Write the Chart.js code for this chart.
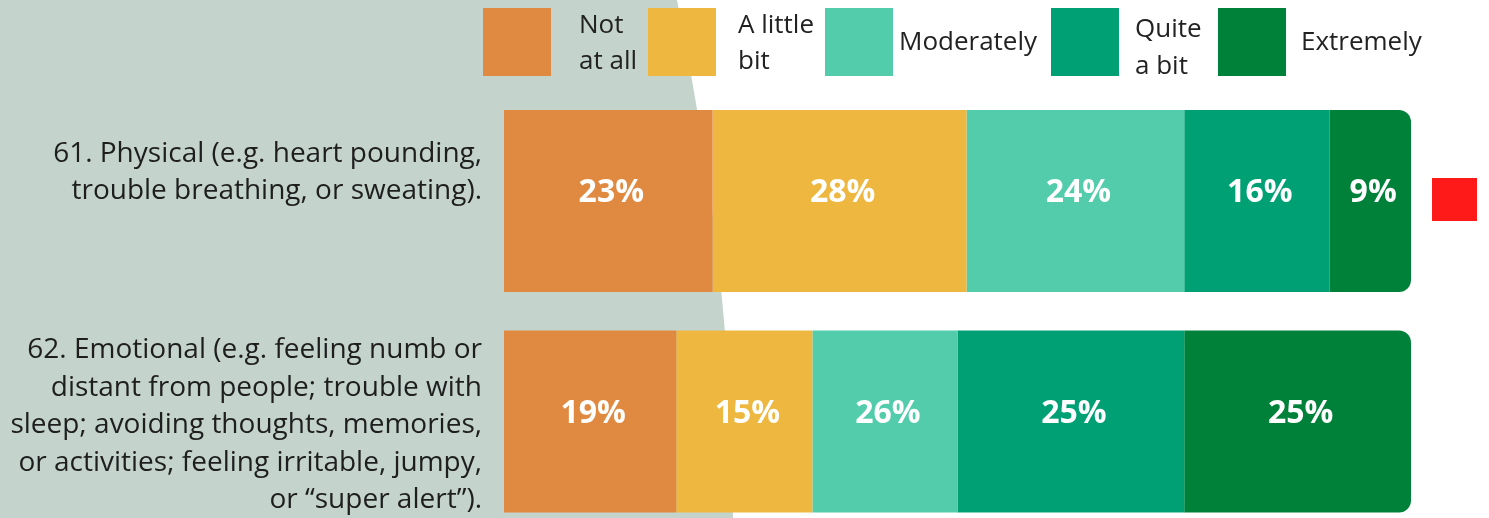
<!DOCTYPE html>
<html>
<head>
<meta charset="utf-8">
<script src="https://cdn.jsdelivr.net/npm/chart.js@4.4.0/dist/chart.umd.min.js"></script>
<style>
  html, body { margin: 0; padding: 0; background: #fff; overflow: hidden; }
  #wrap { position: absolute; left: 0; top: 0; width: 1489px; height: 545px; }
</style>
</head>
<body>
<div id="wrap"><canvas id="stressChart"></canvas></div>
<script>
// Question labels (multi-line)
const questions = [
  ['61. Physical (e.g. heart pounding,', 'trouble breathing, or sweating).'],
  ['62. Emotional (e.g. feeling numb or', 'distant from people; trouble with', 'sleep; avoiding thoughts, memories,', 'or activities; feeling irritable, jumpy,', 'or \u201csuper alert\u201d).']
];

// Response categories
const responses = ['Not at all', 'A little bit', 'Moderately', 'Quite a bit', 'Extremely'];
const legendLines = [['Not', 'at all'], ['A little', 'bit'], ['Moderately'], ['Quite', 'a bit'], ['Extremely']];
const colors = ['#E08940', '#EEB740', '#52CCAA', '#00A075', '#008139'];

// Segment sizes per response (percent of bar)
const notAtAll   = [23, 19];
const aLittleBit = [28, 15];
const moderately = [24, 16];
const quiteABit  = [16, 25];
const extremely  = [9, 25];

// Printed labels (as shown on the original chart)
const notAtAllLabels   = ['23%', '19%'];
const aLittleBitLabels = ['28%', '15%'];
const moderatelyLabels = ['24%', '26%'];
const quiteABitLabels  = ['16%', '25%'];
const extremelyLabels  = ['9%', '25%'];

const seriesValues = [notAtAll, aLittleBit, moderately, quiteABit, extremely];
const seriesLabels = [notAtAllLabels, aLittleBitLabels, moderatelyLabels, quiteABitLabels, extremelyLabels];

const FONT = "'Open Sans', 'Noto Sans', sans-serif";

// background shape behind the left part
const backdrop = {
  id: 'backdrop',
  beforeDraw(chart) {
    const c = chart.ctx;
    c.save();
    c.fillStyle = '#C4D4CD';
    c.beginPath();
    c.moveTo(0, 0);
    c.lineTo(677, 0);
    c.quadraticCurveTo(733, 280, 733, 518);
    c.lineTo(734, chart.height);
    c.lineTo(0, chart.height);
    c.closePath();
    c.fill();
    c.restore();
  }
};

// question text on the left, right aligned
const questionLabels = {
  id: 'questionLabels',
  afterDraw(chart) {
    const c = chart.ctx;
    const y = chart.scales.y;
    const lh = 37.5;
    const shift = [-29.5, 3]; // first question sits a bit higher than its bar
    c.save();
    c.font = '28px ' + FONT;
    c.fillStyle = '#1E1E1E';
    c.textAlign = 'right';
    c.textBaseline = 'middle';
    questions.forEach((lines, i) => {
      const cy = y.getPixelForTick(i) + shift[i];
      const y0 = cy - (lines.length - 1) * lh / 2;
      lines.forEach((ln, j) => c.fillText(ln, chart.chartArea.left - 22, y0 + j * lh + 1));
    });
    c.restore();
  }
};

// legend with big square swatches and wrapped text
const bigLegend = {
  id: 'bigLegend',
  afterDraw(chart) {
    const c = chart.ctx;
    const boxX = [483, 648, 825, 1051, 1218];
    const textX = [579, 738, 899, 1135, 1301];
    const lineY = [[26, 62], [26, 62], [43], [30, 67], [43]];
    c.save();
    c.font = '26px ' + FONT;
    c.textBaseline = 'middle';
    c.textAlign = 'left';
    responses.forEach((r, i) => {
      c.fillStyle = colors[i];
      c.fillRect(boxX[i], 8, 68, 68);
      c.fillStyle = '#222';
      legendLines[i].forEach((ln, j) => c.fillText(ln, textX[i], lineY[i][j]));
    });
    // small red marker at right of first bar
    const m = chart.getDatasetMeta(0).data[0];
    c.fillStyle = '#FF1A1A';
    c.fillRect(chart.chartArea.right + 21, m.y - 23, 45, 43);
    c.restore();
  }
};

// percent labels in each segment
const valueLabels = {
  id: 'valueLabels',
  afterDatasetsDraw(chart) {
    const c = chart.ctx;
    c.save();
    c.font = 'bold 32px ' + FONT;
    c.fillStyle = '#fff';
    c.textAlign = 'center';
    c.textBaseline = 'middle';
    chart.data.datasets.forEach((ds, i) => {
      chart.getDatasetMeta(i).data.forEach((bar, j) => {
        c.fillText(seriesLabels[i][j], (bar.x + bar.base) / 2 + 3, bar.y - 8);
      });
    });
    c.restore();
  }
};

const ctx = document.getElementById('stressChart').getContext('2d');
const stressChart = new Chart(ctx, {
  type: 'bar',
  data: {
    labels: questions,
    datasets: responses.map((r, i) => ({
      label: r,
      data: seriesValues[i],
      backgroundColor: colors[i],
      borderWidth: 0,
      borderSkipped: false,
      borderRadius: i === responses.length - 1 ? { topLeft: 0, bottomLeft: 0, topRight: 12, bottomRight: 12 } : 0,
      categoryPercentage: 1,
      barPercentage: 0.8254
    }))
  },
  options: {
    indexAxis: 'y',
    responsive: true,
    maintainAspectRatio: false,
    animation: false,
    layout: { padding: { top: 90.75, bottom: 13.25, right: 78, left: 0 } },
    plugins: {
      legend: { display: false },
      tooltip: { enabled: false }
    },
    scales: {
      x: { stacked: true, display: false, min: 0, max: 100 },
      y: {
        stacked: true,
        border: { display: false },
        grid: { display: false, drawTicks: false },
        ticks: { display: false },
        afterFit(scale) {
          scale.width = 504;
          scale.paddingTop = 0;
          scale.paddingBottom = 0;
        }
      }
    }
  },
  plugins: [backdrop, valueLabels, questionLabels, bigLegend]
});
</script>
</body>
</html>
